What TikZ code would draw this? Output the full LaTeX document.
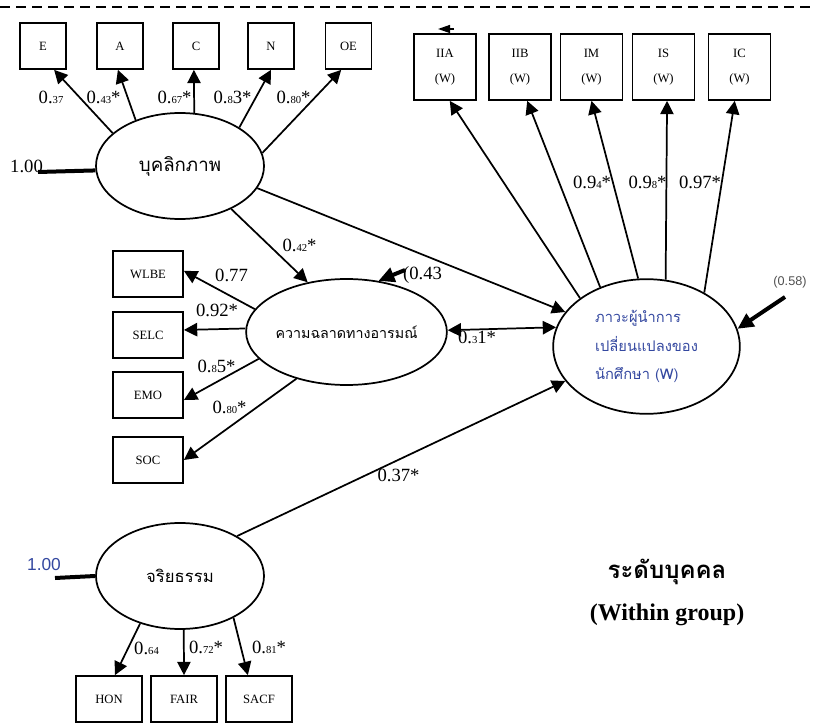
\documentclass[tikz,border=0pt]{standalone}
\usepackage{fontspec}
\setmainfont{Liberation Serif}
\newfontfamily\thaifont[Script=Thai]{Loma}
\newfontfamily\arialfont{Liberation Sans}
\usetikzlibrary{arrows.meta}
\usetikzlibrary{shapes.geometric}

\definecolor{labblue}{RGB}{52,72,160}
\definecolor{resgray}{RGB}{80,80,80}

% small digits inside the coefficients
\newcommand{\sm}[1]{{\fontsize{8}{8}\selectfont #1}}
\newcommand{\thaisz}[1]{\thaifont\fontsize{#1}{#1}\selectfont}

\tikzset{
    obs/.style={draw, rectangle, line width=1.3pt, inner sep=0pt, font=\fontsize{9.5}{11}\selectfont},
    latent/.style={draw, ellipse, line width=1.3pt, inner sep=0pt},
    load/.style={-{Triangle[length=10pt, width=10pt]}, line width=1.3pt},
    resid/.style={line width=3pt},
    coef/.style={inner sep=0pt, font=\fontsize{14}{14}\selectfont}
}

\begin{document}
\begin{tikzpicture}[x=0.75pt, y=-0.75pt]
    \useasboundingbox (0,0) rectangle (813,723);

    % --- top border
    \draw[line width=1.1pt, dash pattern=on 7.5pt off 4.5pt] (0,7) -- (813,7);

    % --- latent variables
    \node[latent, minimum width=126pt, minimum height=79.5pt, font=\thaisz{14}] (pers) at (180,166) {บุคลิกภาพ};
    \node[latent, minimum width=125pt, minimum height=79.5pt, font=\thaisz{10.7}] (emo) at (346.5,332) {ความฉลาดทางอารมณ์};
    \node[latent, minimum width=126pt, minimum height=79.5pt, font=\thaisz{12.5}] (eth) at (180,576) {จริยธรรม};
    \node[latent, minimum width=140pt, minimum height=101pt, align=left, text=labblue,
        font=\thaifont\fontsize{11}{21.4}\selectfont] (lead) at (646.5,346.5)
        {ภาวะผู้นำการ\\ เปลี่ยนแปลงของ\\ นักศึกษา (W)};

    % --- personality indicators
    \foreach \name/\x in {E/43, A/120, C/196, N/271, OE/348.5}
        \node[obs, minimum size=34.5pt] (\name) at (\x,46) {\name};

    \draw[load] (pers.154) -- (E.-65);
    \draw[load] (pers.134) -- (A.-95);
    \draw[load] (pers.75) -- (C.-95);
    \draw[load] (pers.33.5) -- (N.south);
    \draw[load] (pers.9.6) -- (OE.-107);

    \node[coef] (lE) at (51,97) {0.\sm{37}};
    \node[coef] (lA) at (103.5,97) {0.\sm{43}*};
    \node[coef] (lC) at (174.5,97) {0.\sm{67}*};
    \node[coef] (lN) at (232.5,97) {0.\sm{8}3*};
    \node[coef] (lOE) at (293.5,97) {0.\sm{80}*};

    % fixed variance
    \coordinate (rp) at (38,172);
    \draw[resid] (rp) -- (pers.183);
    \node[coef] (vp) at (26.5,166) {1.00};

    % --- leadership indicators
    \foreach \name/\x in {IIA/445, IIB/520, IM/591.5, IS/663.5, IC/739.5}
        \node[obs, minimum width=46.5pt, minimum height=49.5pt, align=center, font=\fontsize{9.5}{19}\selectfont] (\name) at (\x,67) {\name\\(W)};

    \draw[load] (lead.144.5) -- (IIA.-82);
    \draw[load] (lead.128) -- (IIB.-78);
    \draw[load] (lead.97) -- (IM.south);
    \draw[load] (lead.74) -- (IS.-84);
    \draw[load] (lead.43.5) -- (IC.-98);

    \node[coef] (lIM) at (592,182) {0.9\sm{4}*};
    \node[coef] (lIS) at (647.5,182) {0.9\sm{8}*};
    \node[coef] (lIC) at (700,182) {0.97*};

    % stray tip above IIA
    \coordinate (s1) at (454,29);
    \coordinate (s2) at (438,29);
    \draw[-{Triangle[length=9pt, width=6pt]}, line width=1pt] (s1) -- (s2);

    % residual of leadership
    \coordinate (rl) at (785,297);
    \draw[resid, -{Triangle[length=12pt, width=11pt]}] (rl) -- (lead.11);
    \node[inner sep=0pt, text=resgray, font=\arialfont\fontsize{9.5}{10}\selectfont] (vl) at (790,282) {(0.58)};

    % --- emotional intelligence indicators
    \node[obs, minimum width=52.5pt, minimum height=34.5pt] (WLBE) at (148,274) {WLBE};
    \node[obs, minimum width=52.5pt, minimum height=34.5pt] (SELC) at (148,335) {SELC};
    \node[obs, minimum width=52.5pt, minimum height=34.5pt] (EMO) at (148,395) {EMO};
    \node[obs, minimum width=52.5pt, minimum height=34.5pt] (SOC) at (148,460) {SOC};

    \draw[load] (emo.166.5) -- (WLBE.5);
    \draw[load] (emo.178.6) -- (SELC.8);
    \draw[load] (emo.-163.4) -- (EMO.-8);
    \draw[load] (emo.-137) -- (SOC.east);

    \node[coef] (lWLBE) at (231.5,275) {0.77};
    \node[coef] (lSELC) at (217,310) {0.92*};
    \node[coef] (lEMO) at (216.5,366) {0.\sm{8}5*};
    \node[coef] (lSOC) at (229.5,407) {0.\sm{80}*};

    % residual of emotional intelligence
    \coordinate (re) at (405,270);
    \draw[resid, -{Triangle[length=12pt, width=11pt]}] (re) -- (emo.58);
    \node[coef] (ve) at (422.5,275) {(0.43};

    % --- structural paths
    \draw[load] (pers.-40) -- (emo.128);
    \node[coef] (lpe) at (299.5,245) {0.\sm{42}*};

    \draw[load] (pers.-16) -- (lead.157.5);

    \draw[{Triangle[length=10pt, width=10pt]}-{Triangle[length=10pt, width=10pt]}, line width=1.3pt] (emo.1.4) -- (lead.168);
    \node[coef] (lel) at (477,337) {0.\sm{3}1*};

    \draw[load] (eth.35) -- (lead.203);
    \node[coef] (lth) at (398.5,475) {0.37*};

    % --- ethics indicators
    \node[obs, minimum width=49.5pt, minimum height=34.5pt] (HON) at (109,699) {HON};
    \node[obs, minimum width=49.5pt, minimum height=34.5pt] (FAIR) at (184,699) {FAIR};
    \node[obs, minimum width=49.5pt, minimum height=34.5pt] (SACF) at (259,699) {SACF};

    \draw[load] (eth.-130.6) -- (HON.76);
    \draw[load] (eth.-86) -- (FAIR.north);
    \draw[load] (eth.-38) -- (SACF.115);

    \node[coef] (lHON) at (146.5,648) {0.\sm{64}};
    \node[coef] (lFAIR) at (206,647) {0.\sm{72}*};
    \node[coef] (lSACF) at (269,647) {0.\sm{81}*};

    % fixed variance
    \coordinate (rt) at (55,578);
    \draw[resid] (rt) -- (eth.west);
    \node[inner sep=0pt, text=labblue, font=\arialfont\fontsize{13}{13}\selectfont] (vt) at (44,565) {1.00};

    % --- level title
    \node[font=\thaisz{18}\bfseries] (lvl) at (667,572) {ระดับบุคคล};
    \node[font=\fontsize{18}{18}\selectfont\bfseries] (grp) at (667,615) {(Within group)};
\end{tikzpicture}
\end{document}
